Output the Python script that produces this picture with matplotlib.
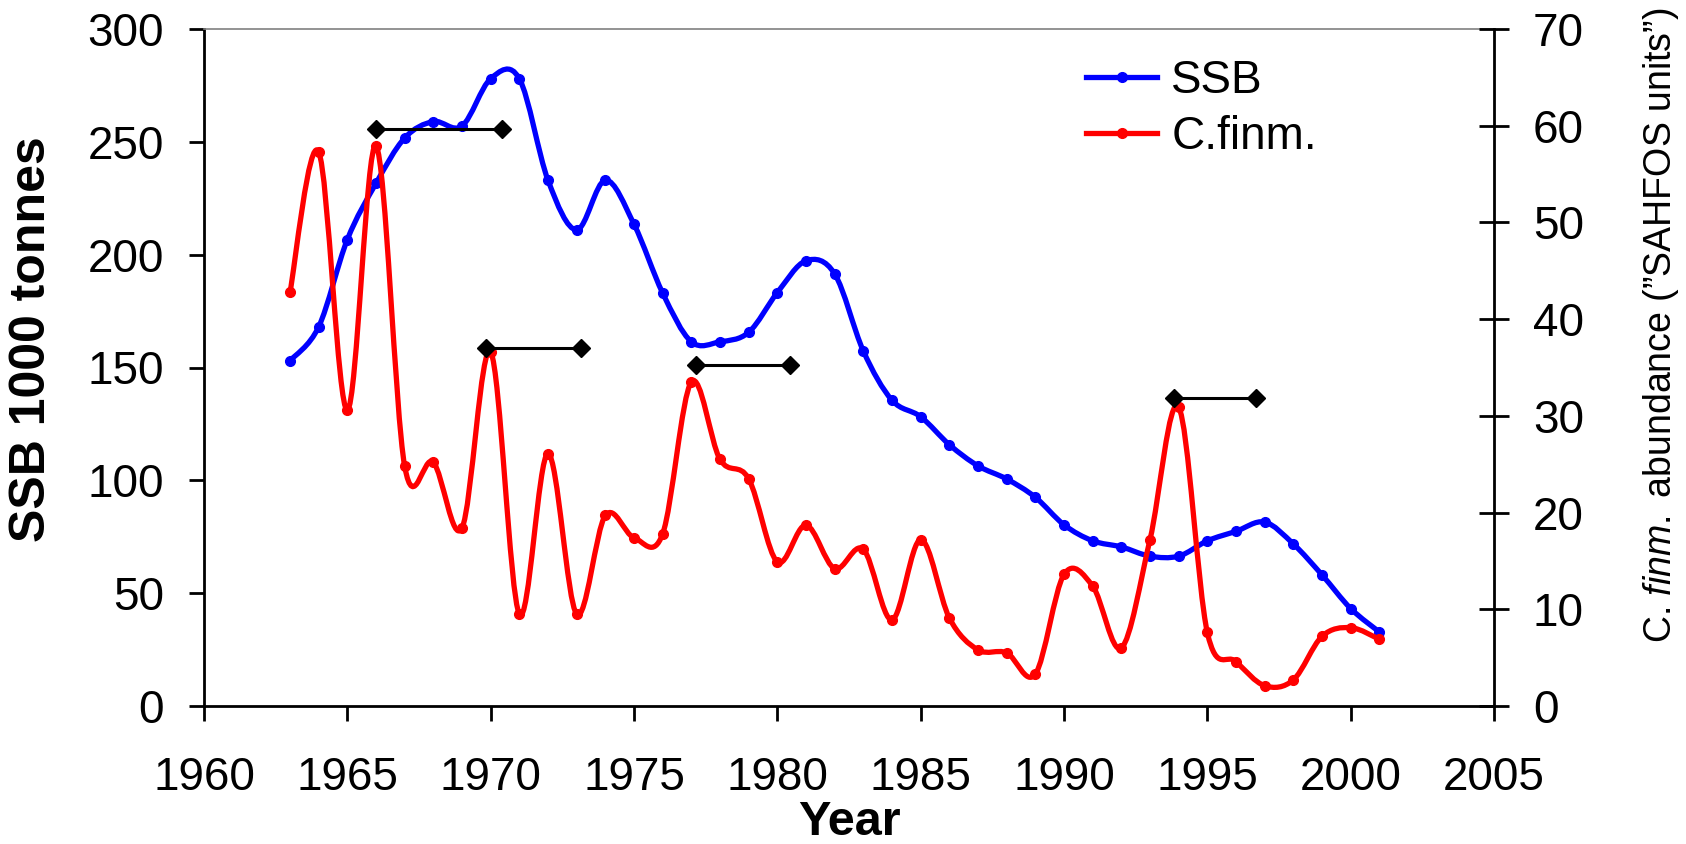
import matplotlib
matplotlib.use("Agg")
import matplotlib.pyplot as plt
import numpy as np
from matplotlib.path import Path
from matplotlib.patches import PathPatch
from matplotlib.lines import Line2D

# ---- data ----
years = list(range(1963, 2002))
ssb = [153, 168, 206.7, 231.6, 251.7, 259, 257, 278, 278, 233,
       211, 233, 213.5, 183, 161.4, 161.4, 165.6, 183.2, 197.3, 191.5,
       157.3, 135.5, 128.2, 115.8, 106.4, 100.6, 92.5, 80.3, 73.2, 70.5,
       66.4, 66.4, 73.2, 77.4, 81.5, 71.8, 58.1, 43.2, 32.8]
cfinm = [42.8, 57.3, 30.6, 57.9, 24.8, 25.2, 18.4, 36.6, 9.5, 26.1,
         9.5, 19.7, 17.4, 17.8, 33.5, 25.5, 23.5, 14.9, 18.7, 14.2,
         16.2, 8.9, 17.2, 9.1, 5.8, 5.5, 3.3, 13.6, 12.4, 6.0,
         17.2, 30.9, 7.6, 4.6, 2.1, 2.7, 7.2, 8.1, 6.9]

# lag bars (left axis units)
lag_start = [1966.0, 1969.85, 1977.15, 1993.85]
lag_end = [1970.4, 1973.15, 1980.45, 1996.7]
lag_level = [255.5, 158.7, 151.0, 136.5]

plt.rcParams["font.family"] = ["Liberation Sans", "DejaVu Sans"]
plt.rcParams["mathtext.fontset"] = "custom"
plt.rcParams["mathtext.rm"] = "Liberation Sans"
plt.rcParams["mathtext.it"] = "Liberation Sans:italic"


def smooth_path(x, y):
    # excel-like smoothed line (bezier through every point)
    pts = np.column_stack([np.asarray(x, float), np.asarray(y, float)])
    n = len(pts)
    verts = [pts[0]]
    codes = [Path.MOVETO]
    for i in range(n - 1):
        p0 = pts[i - 1] if i > 0 else pts[i]
        p1 = pts[i]
        p2 = pts[i + 1]
        p3 = pts[i + 2] if i + 2 < n else pts[i + 1]
        verts += [p1 + (p2 - p0) / 6, p2 - (p3 - p1) / 6, p2]
        codes += [Path.CURVE4] * 3
    return Path(verts, codes)


fig = plt.figure(figsize=(16.86, 8.44), dpi=100)
ax = fig.add_axes([204 / 1686, 1 - 706 / 844, 1290 / 1686, 677 / 844])
ax2 = ax.twinx()

lw = 3.8
ax.add_patch(PathPatch(smooth_path(years, ssb), fill=False, edgecolor="#0000FF",
                       lw=lw, capstyle="round", joinstyle="round"))
ax.plot(years, ssb, "o", color="#0000FF", ms=7)

ax2.add_patch(PathPatch(smooth_path(years, cfinm), fill=False, edgecolor="#FF0000",
                        lw=lw, capstyle="round", joinstyle="round"))
ax2.plot(years, cfinm, "o", color="#FF0000", ms=7)

for x0, x1, lev in zip(lag_start, lag_end, lag_level):
    ax2.plot([x0, x1], [lev, lev], "-", color="black", lw=2.2, marker="D", ms=9,
             transform=ax.transData)

ax.set_xlim(1960, 2005)
ax.set_ylim(0, 300)
ax2.set_ylim(0, 70)
ax.set_xticks(range(1960, 2006, 5))
ax.set_yticks(range(0, 301, 50))
ax2.set_yticks(range(0, 71, 10))

for a in (ax, ax2):
    for s in a.spines.values():
        s.set_linewidth(2)
ax.spines["top"].set_color("#808080")
ax.spines["top"].set_linewidth(1.2)
ax2.spines["top"].set_visible(False)
ax.spines["right"].set_visible(False)
ax2.spines["left"].set_visible(False)
ax2.spines["bottom"].set_visible(False)

ax.tick_params(axis="y", direction="out", length=11, width=2, pad=18, labelsize=33)
ax.tick_params(axis="x", direction="out", length=11, width=2, pad=25, labelsize=33)
ax2.tick_params(axis="y", direction="inout", length=21, width=2, pad=17.5, labelsize=33)

fig.text(0.5 * (204 + 1494) / 1686, 0.025, "Year", fontsize=35, fontweight="bold",
         ha="center", va="center")
fig.text(0.019, 0.598, "SSB 1000 tonnes", fontsize=36, fontweight="bold",
         rotation=90, ha="center", va="center")
fig.text(0.985, 0.615, r"C. $\it{finm.}$ abundance (”SAHFOS units”)", fontsize=27,
         rotation=90, ha="center", va="center")

handles = [Line2D([], [], color="#0000FF", lw=lw, marker="o", ms=7),
           Line2D([], [], color="#FF0000", lw=lw, marker="o", ms=7)]
ax2.legend(handles, ["SSB", "C.finm."], loc="upper left", bbox_to_anchor=(0.684, 0.956),
           frameon=False, fontsize=33, handlelength=1.55, handletextpad=0.3,
           labelspacing=0.26, borderpad=0, borderaxespad=0)

fig.savefig("out.png", dpi=100)
